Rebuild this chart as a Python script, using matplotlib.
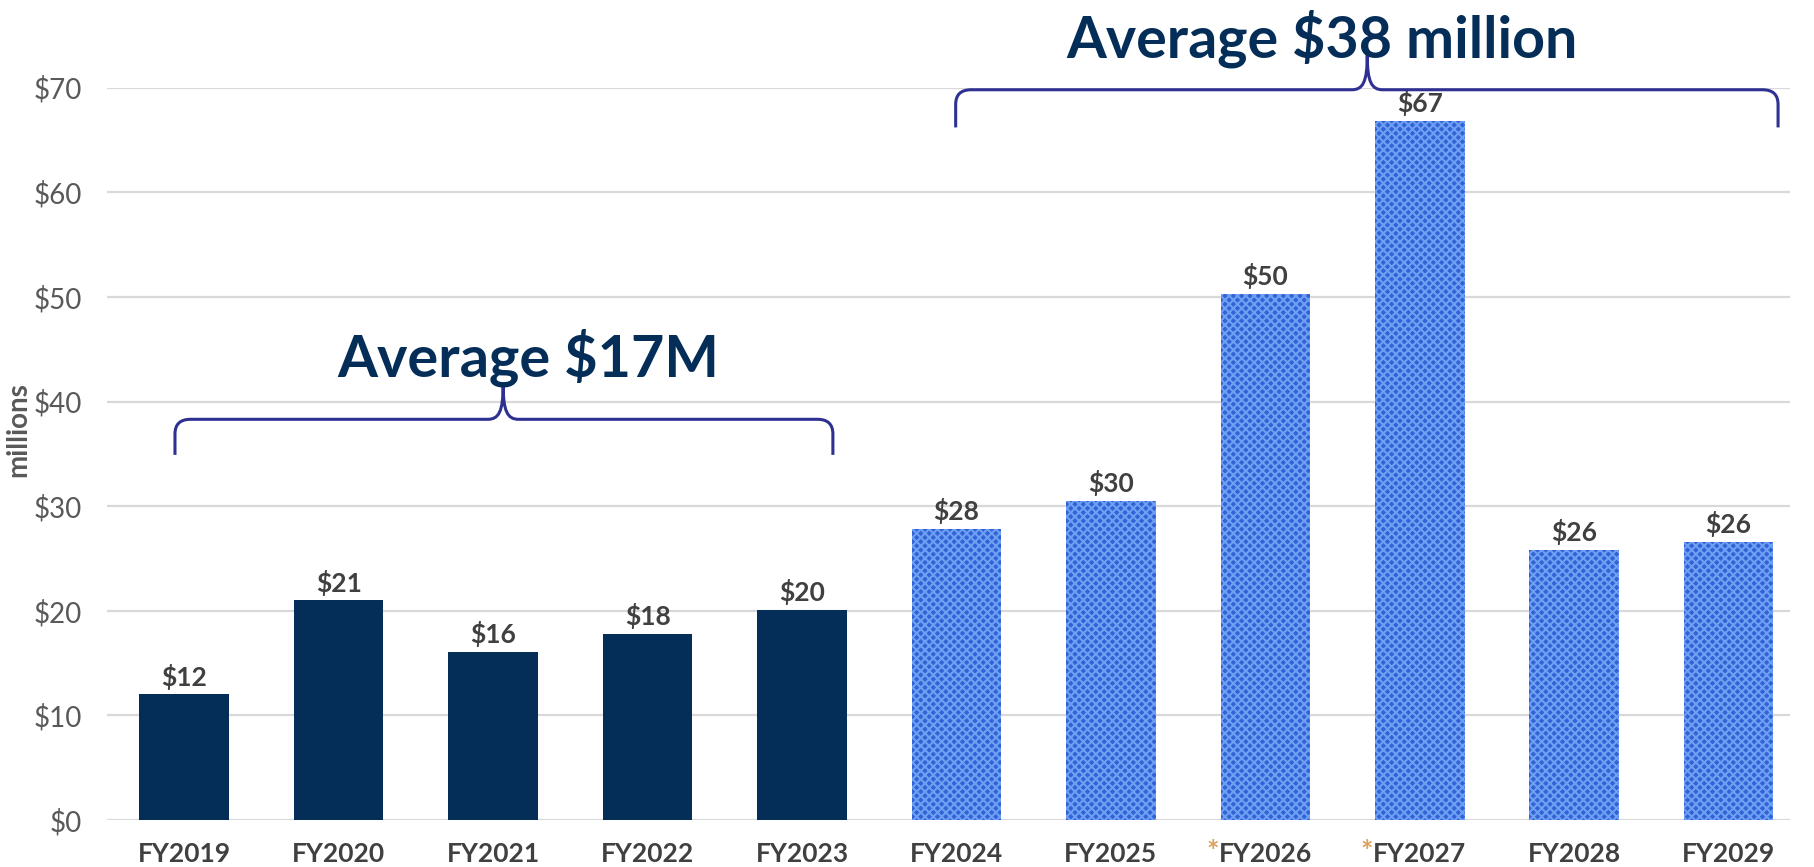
import matplotlib
matplotlib.use("Agg")
import matplotlib.pyplot as plt
from matplotlib.path import Path
from matplotlib.patches import PathPatch

plt.rcParams['font.family'] = ['Lato', 'DejaVu Sans']
plt.rcParams['hatch.linewidth'] = 1.5

categories = ["FY2019", "FY2020", "FY2021", "FY2022", "FY2023", "FY2024",
              "FY2025", "FY2026", "FY2027", "FY2028", "FY2029"]
values = [12.0, 21.0, 16.1, 17.8, 20.1, 27.8, 30.5, 50.3, 66.8, 25.8, 26.6]
value_labels = ["$12", "$21", "$16", "$18", "$20", "$28", "$30", "$50", "$67", "$26", "$26"]
projected = [False] * 5 + [True] * 6
starred = ["FY2026", "FY2027"]
yticks = [0, 10, 20, 30, 40, 50, 60, 70]
ytick_labels = ["$0", "$10", "$20", "$30", "$40", "$50", "$60", "$70"]
avg1_text = "Average $17M"
avg2_text = "Average $38 million"

navy = "#042e58"
blue = "#3263d6"
blue_hatch = "#6f9ff2"
brace_color = "#2e3192"
gray_text = "#404040"

fig = plt.figure(figsize=(18.14, 8.67), dpi=100)
ax = fig.add_axes([0.059, 0.0542, 0.928, 0.8447])

x = list(range(len(categories)))
for xi, v, p in zip(x, values, projected):
    if p:
        ax.bar(xi, v, width=0.58, color=blue, edgecolor=blue_hatch,
               hatch="xxxx", linewidth=0, zorder=3)
    else:
        ax.bar(xi, v, width=0.58, color=navy, linewidth=0, zorder=3)
for xi, v, lab in zip(x, values, value_labels):
    ax.text(xi, v + 0.45, lab, ha="center", va="bottom", fontsize=19,
            fontweight="bold", color=gray_text, zorder=4)

ax.set_xlim(-0.5, len(categories) - 0.6)
ax.set_ylim(0, 70)
ax.set_yticks(yticks)
ax.set_yticklabels(ytick_labels, fontsize=20, color="#595959")
ax.set_xticks(x)
ax.set_xticklabels(categories, fontsize=19, fontweight="bold", color="#404040")
ax.tick_params(axis="both", length=0)
ax.tick_params(axis="y", pad=18)
ax.tick_params(axis="x", pad=16)
for s in ax.spines.values():
    s.set_visible(False)
ax.grid(axis="y", color="#d9d9d9", linewidth=1.6, zorder=0)
ax.set_axisbelow(True)
ax.set_ylabel("millions", fontsize=20, fontweight="bold", color="#595959")
ax.yaxis.set_label_coords(-0.045, 0.533)

for lbl in ax.get_xticklabels():
    if lbl.get_text() in starred:
        ax.annotate("*", xy=(0, 0.6), xycoords=lbl, ha="right", va="center",
                    fontsize=21, fontweight="bold", color="#dba25e",
                    annotation_clip=False)


def brace(x0, x1, xm, y, ylow, ypeak, rx, ry):
    verts = [
        (x0, ylow), (x0, y - ry), (x0, y), (x0 + rx, y),
        (xm - rx, y), (xm - rx * 0.3, y), (xm, y + ry * 0.5), (xm, ypeak),
        (xm, y + ry * 0.5), (xm + rx * 0.3, y), (xm + rx, y),
        (x1 - rx, y), (x1, y), (x1, y - ry), (x1, ylow),
    ]
    codes = [Path.MOVETO, Path.LINETO, Path.CURVE3, Path.CURVE3,
             Path.LINETO, Path.CURVE4, Path.CURVE4, Path.CURVE4,
             Path.CURVE4, Path.CURVE4, Path.CURVE4,
             Path.LINETO, Path.CURVE3, Path.CURVE3, Path.LINETO]
    patch = PathPatch(Path(verts, codes), fill=False, edgecolor=brace_color,
                      linewidth=2.2, clip_on=False, zorder=5)
    ax.add_patch(patch)


brace(-0.06, 4.20, 2.065, 38.3, 34.9, 41.6, 0.1, 1.4)
brace(4.995, 10.32, 7.66, 69.8, 66.2, 73.1, 0.1, 1.4)

ax.text(2.23, 42.4, avg1_text, ha="center", va="baseline", fontsize=41.5,
        fontweight="bold", color=navy, zorder=6)
ax.text(7.37, 72.9, avg2_text, ha="center", va="baseline", fontsize=41.3,
        fontweight="bold", color=navy, clip_on=False, zorder=6)

fig.savefig("out.png", dpi=100)
